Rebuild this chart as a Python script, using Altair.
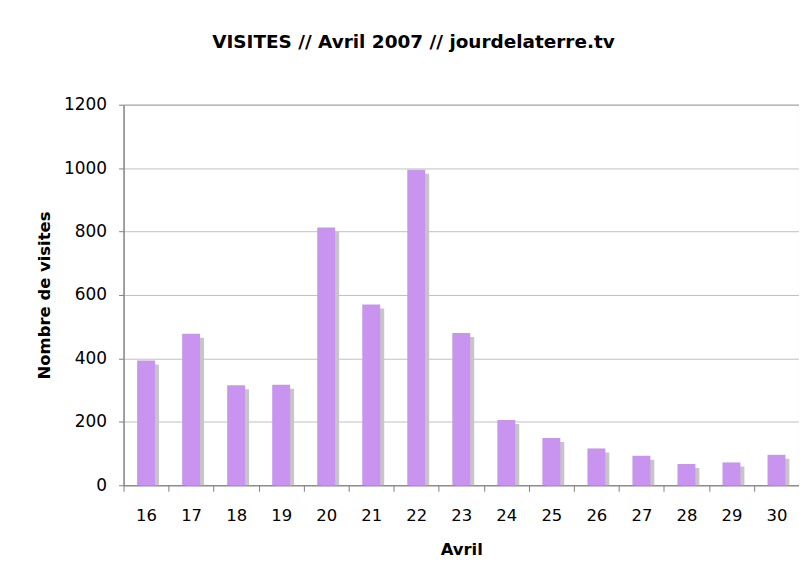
import altair as alt
import pandas as pd

days = ["16", "17", "18", "19", "20", "21", "22", "23", "24", "25", "26", "27", "28", "29", "30"]
visits = [393, 478, 315, 317, 813, 570, 995, 480, 206, 149, 116, 93, 67, 72, 96]
y_ticks = [0, 200, 400, 600, 800, 1000, 1200]

df = pd.DataFrame({"day": days, "visits": visits})

FONT = "DejaVu Sans"

base = alt.Chart(df).encode(
    x=alt.X(
        "day:O",
        sort=days,
        scale=alt.Scale(paddingInner=0, paddingOuter=0),
        axis=alt.Axis(
            title="Avril",
            labelAngle=0,
            labelFontSize=16.5,
            labelColor="#000000",
            labelPadding=16,
            titleFontSize=16.5,
            titleFontWeight="bold",
            titleColor="#000000",
            titlePadding=18,
            tickBand="extent",
            tickSize=6,
            tickColor="#808080",
            domainColor="#808080",
            grid=False,
        ),
    ),
    y=alt.Y(
        "visits:Q",
        scale=alt.Scale(domain=[0, 1200], nice=False),
        axis=alt.Axis(
            title="Nombre de visites",
            values=y_ticks,
            format="d",
            labelFontSize=17,
            labelColor="#000000",
            labelPadding=12,
            titleFontSize=16.5,
            titleFontWeight="bold",
            titleColor="#000000",
            titlePadding=11,
            tickSize=5,
            tickColor="#808080",
            domainColor="#808080",
            grid=True,
            gridColor="#C0C0C0",
        ),
    ),
)

shadow = base.mark_bar(color="#C6C6C6", width=18, xOffset=4, yOffset=4, clip=True)
bars = base.mark_bar(color="#C994F0", width=18)

chart = (
    alt.layer(shadow, bars)
    .properties(
        width=678,
        height=382,
        title=alt.TitleParams(
            "VISITES // Avril 2007 // jourdelaterre.tv",
            fontSize=18.5,
            fontWeight="bold",
            color="#000000",
            anchor="middle",
            dx=-48,
            offset=44,
        ),
        autosize=alt.AutoSizeParams(type="none"),
        padding={"left": 116, "top": 96, "right": 0, "bottom": 80},
    )
    .configure(font=FONT, background="#FFFFFF")
    .configure_view(stroke="#888888", strokeWidth=1)
)

chart.save("out.html", embed_options={"renderer": "svg", "actions": False})
